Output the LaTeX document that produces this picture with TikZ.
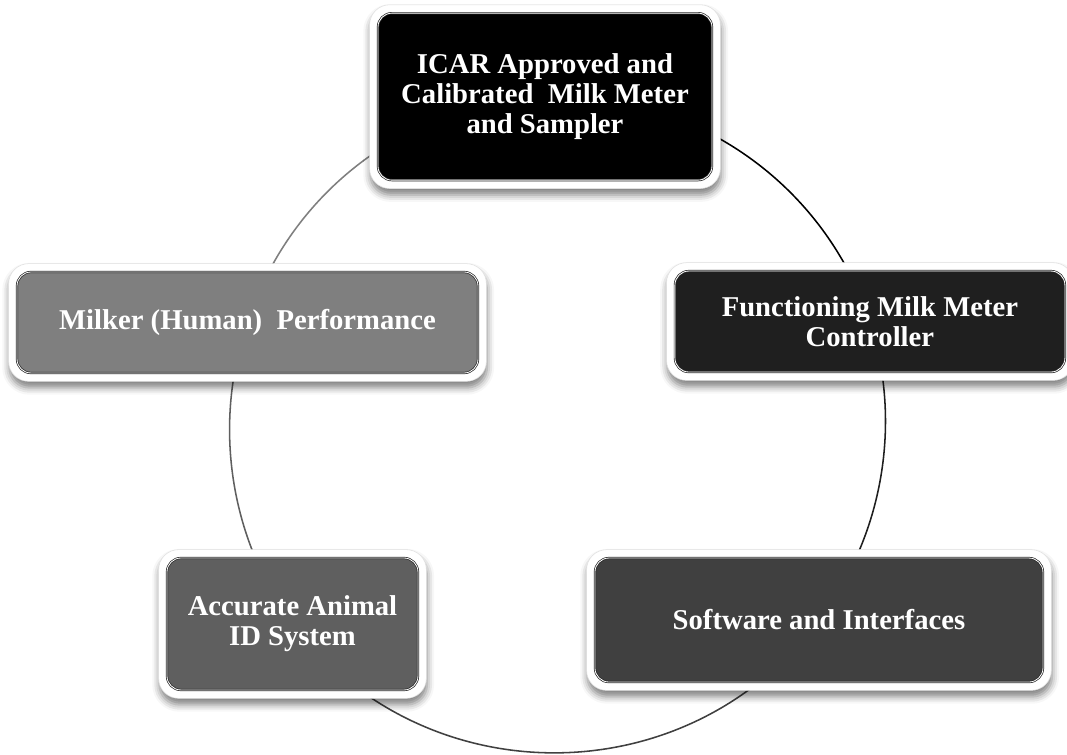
\documentclass[tikz,border=0pt]{standalone}
\usepackage{fontspec}
\setmainfont{Liberation Serif}
\usetikzlibrary{backgrounds,fit,shadows.blur}

\definecolor{icarfill}{HTML}{000000}
\definecolor{ctrlfill}{HTML}{1F1F1F}
\definecolor{softfill}{HTML}{404040}
\definecolor{idfill}{HTML}{5F5F5F}
\definecolor{milkerfill}{HTML}{7F7F7F}

\begin{document}
\begin{tikzpicture}[
        stage/.style={rounded corners=0.35cm, draw=black!85, line width=0.5pt,
            double=white, double distance=0.6pt, text=white, align=center,
            font=\bfseries\fontsize{20.4}{21.5}\selectfont},
        frame/.style={rounded corners=0.5cm, fill=white, draw=black!12, inner sep=0.2cm,
            blur shadow={shadow xshift=0.5pt, shadow yshift=-4.5pt,
                shadow blur radius=5pt, shadow opacity=50}},
        link/.style={draw, line width=1.1pt}
    ]
            % origin is the centre of the cycle
            \useasboundingbox (-13.9375,-8.25) rectangle (12.7375,10.6);

            \node[stage, fill=icarfill, minimum width=8.35cm, minimum height=4.175cm]
                (icar) at (92.19:8.19) {ICAR Approved and\\Calibrated~ Milk Meter\\and Sampler};
            \node[stage, fill=ctrlfill, minimum width=9.75cm, minimum height=2.525cm]
                (ctrl) at (18.16:8.22) {Functioning Milk Meter\\Controller};
            \node[stage, fill=softfill, minimum width=11.2cm, minimum height=3.1cm]
                (soft) at (-36.86:8.17) {Software and Interfaces};
            \node[stage, fill=idfill, minimum width=6.275cm, minimum height=3.3cm]
                (idsys) at (-142.96:8.3) {Accurate Animal\\ID System};
            \node[stage, fill=milkerfill, minimum width=11.525cm, minimum height=2.525cm]
                (milker) at (161.87:8.155) {Milker (Human)~ Performance};

            \begin{pgfonlayer}{background}
                % arcs of the cycle, coloured like the box they leave
                \path[link]
                    (icar.center)
                        edge [bend left=37, looseness=0.95, draw=icarfill] (ctrl.center)
                    (ctrl.center)
                        edge [bend left=27.5, looseness=0.9, draw=ctrlfill] (soft.center)
                    (soft.center)
                        edge [bend left=53, looseness=1.06, draw=softfill] (idsys.center)
                    (idsys.center)
                        edge [bend left=27.6, looseness=0.9, draw=idfill] (milker.center)
                    (milker.center)
                        edge [bend left=34.8, looseness=0.94, draw=milkerfill] (icar.center);

                % white frames behind the boxes
                \node[frame, fit=(icar)] {};
                \node[frame, fit=(ctrl)] {};
                \node[frame, fit=(soft)] {};
                \node[frame, fit=(idsys)] {};
                \node[frame, fit=(milker)] {};
            \end{pgfonlayer}
        \end{tikzpicture}
\end{document}
